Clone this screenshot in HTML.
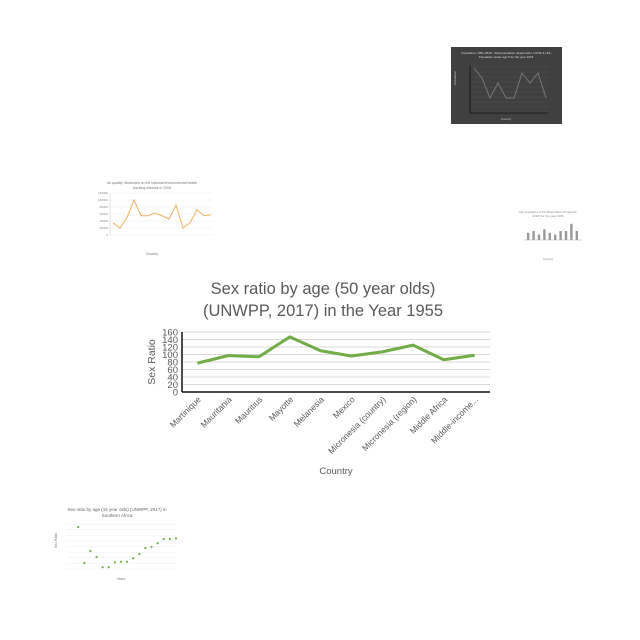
<!DOCTYPE html>
<html><head><meta charset="utf-8"><style>
body{margin:0;width:640px;height:640px;background:#fff;overflow:hidden;font-family:"Liberation Sans",sans-serif}
svg{position:absolute;left:0;top:0}
</style></head><body>
<svg id="s" width="640" height="640">
  <g>
    <rect x="451" y="47" width="111" height="77" fill="#404040"/>
    <text x="506" y="54" font-size="3" fill="#ddd" text-anchor="middle">Population, 1951-2018 - Total population (Gapminder, HYDE &amp; UN)</text>
    <text x="506" y="58" font-size="3" fill="#ddd" text-anchor="middle">Population under age 5 for the year 1978</text>
    <text x="456" y="85" font-size="3" fill="#ccc" transform="rotate(-90 456 85)">Population</text>
    <text x="506" y="120" font-size="3" fill="#ccc" text-anchor="middle">Country</text>
    <g id="dk"></g>
  </g>
  <g>
    <text x="152" y="184" font-size="3.5" fill="#777" text-anchor="middle">Air quality: Measures on the national environmental health</text>
    <text x="152" y="189" font-size="3.5" fill="#777" text-anchor="middle">tracking network in 2008</text>
    <text x="152" y="255" font-size="3.5" fill="#777" text-anchor="middle">Country</text>
    <g id="or"></g>
  </g>
  <g>
    <text x="548" y="213" font-size="3" fill="#888" text-anchor="middle">City population (UN Urbanization Prospects,</text>
    <text x="548" y="217" font-size="3" fill="#888" text-anchor="middle">2018) for the year 1995</text>
    <text x="548" y="260" font-size="3" fill="#888" text-anchor="middle">Country</text>
    <g id="br"></g>
  </g>
  <g>
    <text x="117" y="511" font-size="4.5" fill="#666" text-anchor="middle">Sex ratio by age (15 year olds) (UNWPP, 2017) in</text>
    <text x="117" y="517" font-size="4.5" fill="#666" text-anchor="middle">Southern Africa</text>
    <text x="121" y="580" font-size="3.5" fill="#777" text-anchor="middle">Years</text>
    <text x="57" y="548" font-size="3.5" fill="#777" transform="rotate(-90 57 548)">Sex Ratio</text>
    <g id="sc"></g>
  </g>
  <g>
    <text x="323" y="294" font-size="16.5" fill="#595959" text-anchor="middle">Sex ratio by age (50 year olds)</text>
    <text x="323" y="316" font-size="16.5" fill="#595959" text-anchor="middle">(UNWPP, 2017) in the Year 1955</text>
    <text x="155" y="362" font-size="10.5" fill="#595959" text-anchor="middle" transform="rotate(-90 155 362)">Sex Ratio</text>
    <text x="336" y="474" font-size="9.5" fill="#595959" text-anchor="middle">Country</text>
    <g id="mg"></g>
  </g>
</svg>
<script>
const NS='http://www.w3.org/2000/svg';
function mk(p,t,a){const e=document.createElementNS(NS,t);for(const k in a)e.setAttribute(k,a[k]);p.appendChild(e);return e;}
const categories=['Martinique','Mauritania','Mauritius','Mayotte','Melanesia','Mexico','Micronesia (country)','Micronesia (region)','Middle Africa','Middle-income...'];
const values=[77,97,94,147,110,96,107,125,86,98];
const yTicks=[0,20,40,60,80,100,120,140,160];
const X0=182,X1=490,Y0=392,Y1=332,YMAX=160;
const bw=(X1-X0)/categories.length;
const xs=i=>X0+bw*(i+0.5), ys=v=>Y0-(v/YMAX)*(Y0-Y1);
const mg=document.getElementById('mg');
yTicks.forEach(t=>{
  const l=mk(mg,'line',{x1:X0,x2:X1,y1:ys(t),y2:ys(t),stroke:'#d9d9d9','stroke-width':1});
  
  
  const tx=mk(mg,'text',{x:X0-4,y:ys(t)+3.3,'font-size':9.5,fill:'#595959','text-anchor':'end'});
  tx.textContent=t;
  
  
});
const ax=mk(mg,'line',{x1:X0,x2:X1,y1:Y0,y2:Y0,stroke:'#111','stroke-width':1.5});


const ay=mk(mg,'line',{x1:X0,x2:X0,y1:Y1,y2:Y0,stroke:'#111','stroke-width':1.5});


categories.forEach((c,i)=>{
  const x=xs(i)+4,y=Y0+8;
  const t=mk(mg,'text',{x:x,y:y,'font-size':8.5,fill:'#595959','text-anchor':'end',transform:`rotate(-45 ${x} ${y})`});
  t.textContent=c;
  
  
});
const ln=mk(mg,'polyline',{points:values.map((v,i)=>xs(i)+','+ys(v)).join(' '),fill:'none',stroke:'#70ad47','stroke-width':3,'stroke-linejoin':'round'});



const darkValues=[9,7,3,6,3,3,8,6,8,3];
const dk=document.getElementById('dk');
for(let i=0;i<=9;i++){mk(dk,'line',{x1:470,x2:548,y1:67+i*5,y2:67+i*5,stroke:'#555','stroke-width':0.4});}
mk(dk,'line',{x1:470,x2:470,y1:65,y2:113,stroke:'#111','stroke-width':0.8});
mk(dk,'line',{x1:470,x2:548,y1:113,y2:113,stroke:'#111','stroke-width':0.8});
const dpl=mk(dk,'polyline',{points:darkValues.map((v,i)=>(474+i*8)+','+(113-v*5)).join(' '),fill:'none',stroke:'#777','stroke-width':1});



const orangeValues=[35,20,50,100,55,55,63,55,45,85,20,35,72,55,58];
const or=document.getElementById('or');
const oy=v=>235-v*(42/120);
for(let i=0;i<=6;i++){mk(or,'line',{x1:110,x2:213,y1:oy(i*20),y2:oy(i*20),stroke:'#eee','stroke-width':0.5});
 const t=mk(or,'text',{x:108,y:oy(i*20)+1,'font-size':3,fill:'#888','text-anchor':'end'});t.textContent=i*20000;}
mk(or,'line',{x1:110,x2:110,y1:193,y2:235,stroke:'#ccc','stroke-width':0.6});
const opl=mk(or,'polyline',{points:orangeValues.map((v,i)=>(113+i*7)+','+oy(v)).join(' '),fill:'none',stroke:'#f0b060','stroke-width':1});



const barValues=[4,5,3,6,4,3,5,5,9,5];
const br=document.getElementById('br');
barValues.forEach((v,i)=>{const r=mk(br,'rect',{x:527+i*5.4,y:240-v*1.8,width:2.4,height:v*1.8,fill:'#999'});
 
 });
mk(br,'line',{x1:524,x2:582,y1:240,y2:240,stroke:'#aaa','stroke-width':0.6});

const scatterYears=[1950,1955,1960,1965,1970,1975,1980,1985,1990,1995,2000,2005,2010,2015,2020,2025,2030];
const scatterValues=[103.5,97.5,99.5,98.5,96.8,96.8,97.6,97.7,97.7,98.3,99,100,100.2,100.8,101.5,101.5,101.6];
const sc=document.getElementById('sc');
const sx=y=>66+(y-1940)/90*110, sy=v=>569-(v-96.5)/7.5*45;
for(let i=0;i<=8;i++)mk(sc,'line',{x1:66,x2:176,y1:569-i*5.6,y2:569-i*5.6,stroke:'#eee','stroke-width':0.5});
scatterYears.forEach((y,i)=>{const c=mk(sc,'circle',{cx:sx(y),cy:sy(scatterValues[i]),r:1.1,fill:'#70ad47'});
 
 });
</script>
</body></html>
